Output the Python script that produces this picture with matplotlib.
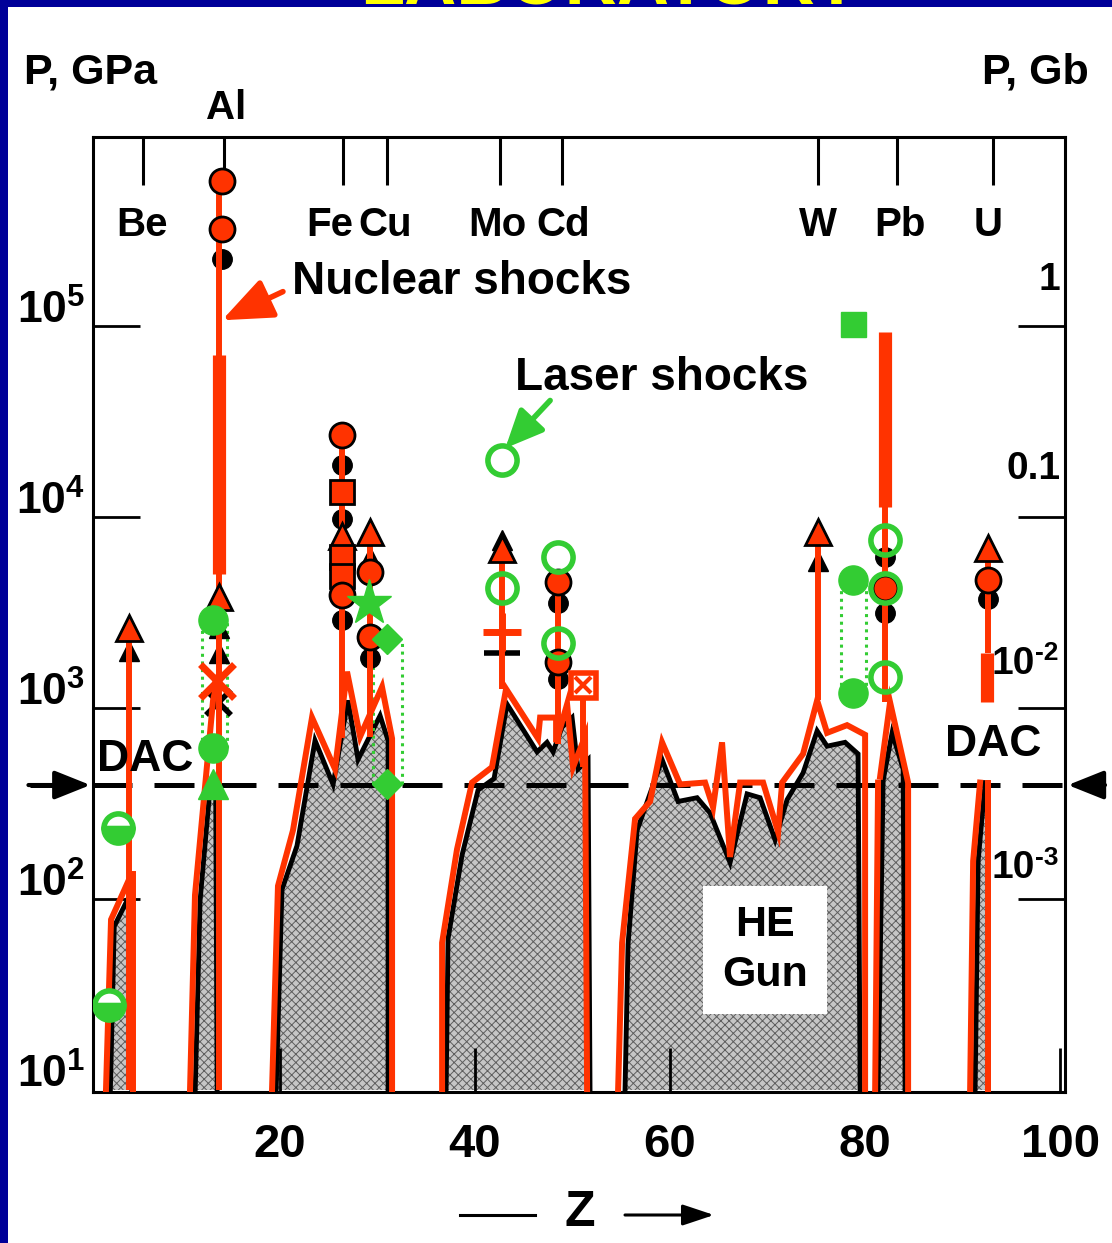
import matplotlib
matplotlib.use('Agg')
import matplotlib.pyplot as plt
from matplotlib import transforms
from matplotlib.patches import Rectangle
from matplotlib.lines import Line2D
from matplotlib.ticker import NullLocator

plt.rcParams['font.family'] = ['Liberation Sans', 'DejaVu Sans']
plt.rcParams['mathtext.fontset'] = 'custom'
plt.rcParams['mathtext.rm'] = 'Liberation Sans'
plt.rcParams['mathtext.bf'] = 'Liberation Sans:bold'
plt.rcParams['mathtext.it'] = 'Liberation Sans:italic'
plt.rcParams['hatch.linewidth'] = 0.7

RED = '#ff3300'
GREEN = '#33cc33'
BLUE = '#000099'
NARROW = ['Liberation Sans Narrow', 'Liberation Sans']

# ---- HE gun envelopes: black (scanned) outline and red overlay, Z vs P [GPa]
be_black_z = [2.6, 3.0, 4.6, 4.8, 4.8]
be_black_p = [10, 72, 105, 105, 10]
be_red_z = [2.15, 2.67, 4.62]
be_red_p = [10, 78, 130]
be_red2_z = [4.92, 4.92]
be_red2_p = [10, 135]

al_black_z = [11.3, 11.8, 12.8, 13.4, 13.55]
al_black_p = [10, 98, 372, 417, 10]
al_red_z = [10.77, 11.28, 13.13, 13.64]
al_red_p = [10, 105, 1096, 1445]

fe_black_z = [19.6, 20.2, 21.74, 23.59, 25.44, 26.97, 28.0, 30.26, 31.08, 31.08]
fe_black_p = [10, 112, 190, 676, 398, 1096, 537, 912, 676, 10]
fe_red_z = [19.18, 19.79, 21.33, 23.28, 25.64, 26.87, 28.21, 30.46, 31.49, 31.49]
fe_red_p = [10, 117, 229, 891, 479, 1549, 708, 1288, 692, 10]

mo_black_z = [37.03, 37.23, 38.67, 40.31, 41.95, 43.28, 46.36, 47.38, 48.0,
              48.92, 49.95, 50.56, 51.59, 51.79]
mo_black_p = [10, 62, 170, 372, 427, 1047, 589, 661, 589, 794, 891, 479, 537, 10]
mo_red_z = [36.62, 36.62, 38.15, 39.69, 41.74, 43.18, 46.46, 46.67, 48.31,
            48.31, 49.44, 50.05, 51.28, 51.49]
mo_red_p = [10, 59, 182, 407, 490, 1259, 692, 891, 891, 661, 1047, 490, 708, 10]

he_black_z = [55.38, 55.69, 56.62, 59.18, 60.82, 62.77, 64.10, 66.15, 67.90,
              69.23, 70.77, 72.0, 73.64, 75.08, 76.10, 77.95, 79.28, 79.49]
he_black_p = [10, 58, 229, 537, 324, 339, 282, 155, 355, 339, 204, 331, 457,
              759, 631, 661, 575, 10]
he_red_z = [54.67, 55.08, 56.41, 57.95, 59.18, 61.03, 63.59, 64.41, 65.33,
            66.15, 67.18, 69.54, 71.08, 71.49, 73.64, 75.08, 76.10, 78.15,
            80.0, 80.0]
he_red_p = [10, 59, 263, 324, 661, 398, 407, 302, 661, 166, 407, 407, 224,
            407, 575, 1096, 741, 813, 724, 10]

pb_black_z = [81.33, 81.85, 82.77, 83.9, 84.1]
pb_black_p = [10, 417, 741, 479, 10]
pb_red_z = [81.03, 81.33]
pb_red_p = [10, 407]
pb_red2_z = [81.54, 82.56, 84.41, 84.41]
pb_red2_p = [437, 1072, 407, 10]

u_black_z = [91.28, 91.59, 92.31, 92.62, 92.62]
u_black_p = [10, 158, 407, 407, 10]
u_red_z = [90.77, 91.08, 91.79]
u_red_p = [10, 158, 407]
u_red2_z = [92.62, 92.62]
u_red2_p = [10, 407]

dac_p = 395

# ---- vertical ranges (thin and thick red bars): z, p_low, p_high
thin_z = [4.5, 13.7, 26.36, 29.23, 42.77, 48.51, 51.08, 75.18, 82.05, 92.62]
thin_lo = [10, 10, 700, 708, 1259, 650, 490, 1096, 1072, 1950]
thin_hi = [2630, 575400, 26920, 8318, 6761, 4571, 1318, 8318, 11220, 6918]
thick_z = [13.7, 82.05, 92.55]
thick_lo = [5012, 11220, 1072]
thick_hi = [70800, 93300, 1950]

# ---- nuclear / HE data points
red_circle_z = [14.0, 14.0, 26.36, 26.36, 29.23, 29.23, 48.51, 48.51, 92.62, 82.05]
red_circle_p = [575400, 323600, 26920, 3890, 5129, 2344, 4571, 1738, 4677, 4266]
red_tri_z = [4.5, 13.75, 26.36, 29.23, 42.77, 75.18, 92.62]
red_tri_p = [2630, 3800, 7943, 8318, 6761, 8318, 6918]
red_sq_z = [26.36, 26.36, 26.36]
red_sq_p = [13490, 6166, 4898]
blk_circle_z = [14.0, 26.36, 26.36, 26.36, 29.23, 48.51, 48.51, 82.05, 82.05, 92.62]
blk_circle_p = [223900, 18620, 9772, 2884, 1820, 3548, 1413, 6166, 3162, 3715]
blk_tri_z = [4.5, 13.75, 13.75, 29.23, 42.77, 75.18]
blk_tri_p = [1995, 2630, 1950, 6166, 7586, 5888]
red_x = (13.54, 1380)
blk_x = (13.64, 1072)
red_plus = (42.77, 2512)
blk_plus = (42.77, 1950)
boxed_x = (51.08, 1318)

# ---- laser shock points
g_open_z = [42.77, 42.77, 48.51, 48.51, 82.05, 82.05, 82.05]
g_open_p = [19950, 4266, 6166, 2188, 7586, 4266, 1445]
g_fill_z = [13.1, 13.1, 78.77, 78.77]
g_fill_p = [2884, 617, 4677, 1202]
g_half_z = [3.38, 2.46]
g_half_p = [234, 28]
g_tri = (13.1, 398)
g_star = (29.13, 3548)
g_dia_z = [30.97, 30.97]
g_dia_p = [2291, 398]
g_sq = (78.77, 102300)
g_bracket_z = [12.0, 14.56, 29.54, 32.5, 77.54, 80.1]
g_bracket_lo = [617, 617, 398, 398, 1202, 1202]
g_bracket_hi = [2884, 2884, 2291, 2291, 4677, 4677]

elements = ['Be', 'Al', 'Fe', 'Cu', 'Mo', 'Cd', 'W', 'Pb', 'U']
elem_tick_z = [5.95, 14.25, 26.46, 30.97, 42.56, 48.92, 75.18, 83.28, 93.13]
elem_label_z = [5.85, 14.5, 25.1, 30.8, 42.3, 49.0, 75.2, 83.6, 92.6]

x_ticks = [20, 40, 60, 80, 100]
left_exp = ['1', '2', '3', '4', '5']
right_base = ['1', '0.1', '10', '10']
right_sup = ['', '', '-2', '-3']
right_label_p = [10**5.24, 10**4.25, 10**3.23, 10**2.16]

fig = plt.figure(figsize=(11.12, 12.43), dpi=100)
fig.patch.set_facecolor('white')
ax = fig.add_axes([93 / 1112, 1 - 1092 / 1243, 972 / 1112, 955 / 1243])
ax.set_yscale('log')
ax.set_xlim(0.82, 100.5)
ax.set_ylim(10**0.9895, 10**5.9895)
bt = transforms.blended_transform_factory(ax.transData, ax.transAxes)
bt_y = transforms.blended_transform_factory(ax.transAxes, ax.transData)

# shaded envelopes
for z, p in [(be_black_z, be_black_p), (al_black_z, al_black_p), (fe_black_z, fe_black_p),
             (mo_black_z, mo_black_p), (he_black_z, he_black_p), (pb_black_z, pb_black_p),
             (u_black_z, u_black_p)]:
    ax.fill(z, p, facecolor='#c6c6c6', edgecolor='#5e5e5e', hatch='xxxx', lw=0, zorder=1)
    ax.plot(z, p, color='black', lw=3.5, zorder=2, solid_joinstyle='miter')

ax.plot([-5.6, 104.1], [dac_p, dac_p], color='black', lw=3.6, dashes=(8, 4.4),
        clip_on=False, zorder=3)
head = '-|>,head_length=1.0,head_width=0.4'
ax.annotate('', xy=(0.55, dac_p), xytext=(-5.8, dac_p), annotation_clip=False,
            arrowprops=dict(arrowstyle=head, color='black', lw=3, mutation_scale=22,
                            shrinkA=0, shrinkB=0))
ax.annotate('', xy=(100.8, dac_p), xytext=(104.6, dac_p), annotation_clip=False,
            arrowprops=dict(arrowstyle=head, color='black', lw=3, mutation_scale=22,
                            shrinkA=0, shrinkB=0))

for z, p in [(be_red_z, be_red_p), (be_red2_z, be_red2_p), (al_red_z, al_red_p),
             (fe_red_z, fe_red_p), (mo_red_z, mo_red_p), (he_red_z, he_red_p),
             (pb_red_z, pb_red_p), (pb_red2_z, pb_red2_p), (u_red_z, u_red_p),
             (u_red2_z, u_red2_p)]:
    ax.plot(z, p, color=RED, lw=4.3, zorder=4, solid_joinstyle='miter')

# scanned black symbols
ax.plot(blk_circle_z, blk_circle_p, 'o', color='black', ms=14, zorder=3.5)
ax.plot(blk_tri_z, blk_tri_p, '^', color='black', ms=15, zorder=3.5)
ax.plot(*blk_x, 'x', color='black', ms=18, mew=4, zorder=3.5)
ax.plot(*blk_plus, '_', color='black', ms=26, mew=4, zorder=3.5)

# green dotted brackets
ax.vlines(g_bracket_z, g_bracket_lo, g_bracket_hi, colors=GREEN, lw=2.2,
          linestyles=(0, (1, 1.5)), zorder=3)

# red bars
ax.vlines(thin_z, thin_lo, thin_hi, colors=RED, lw=4.3, zorder=4.5)
ax.vlines(thick_z, thick_lo, thick_hi, colors=RED, lw=9.5, zorder=4.5)

# red markers
ax.plot(red_tri_z, red_tri_p, '^', mfc=RED, mec='black', mew=2, ms=19, ls='none', zorder=5)
ax.plot(red_sq_z, red_sq_p, 's', mfc=RED, mec='black', mew=2, ms=17, ls='none', zorder=5)
ax.plot(red_circle_z, red_circle_p, 'o', mfc=RED, mec='black', mew=2, ms=18, ls='none', zorder=5)
ax.plot(*red_x, 'x', color=RED, ms=25, mew=5, zorder=5)
ax.plot(*red_plus, '+', color=RED, ms=28, mew=5, zorder=5)
ax.plot(*boxed_x, 's', mfc='white', mec=RED, mew=4, ms=18, zorder=5)
ax.plot(*boxed_x, 'x', color=RED, ms=11, mew=3, zorder=5.1)

# green markers
ax.plot(g_open_z, g_open_p, 'o', mfc='none', mec=GREEN, mew=4, ms=21, ls='none', zorder=6)
ax.plot(g_fill_z, g_fill_p, 'o', color=GREEN, ms=21, ls='none', zorder=6)
ax.plot(g_half_z, g_half_p, 'o', fillstyle='bottom', mfc=GREEN, mfcalt='white', mec=GREEN,
        mew=4, ms=21, ls='none', zorder=6)
ax.plot(*g_tri, '^', color=GREEN, ms=22, zorder=6)
ax.plot(*g_star, '*', color=GREEN, ms=34, zorder=6)
ax.plot(g_dia_z, g_dia_p, 'D', color=GREEN, ms=15, ls='none', zorder=6)
ax.plot(*g_sq, 's', color=GREEN, ms=18, zorder=6)

# axes styling
for sp in ax.spines.values():
    sp.set_linewidth(2.2)
ax.set_yticks([1e2, 1e3, 1e4, 1e5])
ax.yaxis.set_minor_locator(NullLocator())
ax.tick_params(axis='y', direction='in', length=34, width=2, left=True, right=True,
               labelleft=False, labelright=False)
ax.set_xticks(x_ticks)
ax.set_xticklabels([str(v) for v in x_ticks], fontfamily=NARROW, fontweight='bold', fontsize=34)
ax.tick_params(axis='x', direction='in', length=32, width=2, pad=22, top=False)

ax.vlines(elem_tick_z, 0.95, 1.0, colors='black', lw=2.2, transform=bt, zorder=2)
for name, z in zip(elements, elem_label_z):
    y = 1.03 if name == 'Al' else 0.908
    ax.text(z, y, name, transform=bt, ha='center', va='center', fontsize=29,
            fontweight='bold', clip_on=False, zorder=7)

for k in left_exp:
    ax.text(-0.008, 10**(int(k) + 0.08), r'$\mathbf{10^{%s}}$' % k, transform=bt_y,
            ha='right', va='center', fontsize=32, clip_on=False)

# right-hand Gbar labels: base text plus a plain-hyphen superscript
for base, sup, p in zip(right_base, right_sup, right_label_p):
    x = 0.969 if sup else 0.995
    t = ax.text(x, p, base, transform=bt_y, ha='right', va='center', fontsize=28,
                fontweight='bold', zorder=7)
    if sup:
        ax.annotate(sup, xy=(1.0, 0.8), xycoords=t, ha='left', va='center',
                    fontsize=19, fontweight='bold', zorder=7)

# annotations
ax.text(38.67, 10**5.23, 'Nuclear shocks', ha='center', va='center', fontsize=33,
        fontweight='bold', zorder=7)
ax.annotate('', xy=(14.05, 10**5.03), xytext=(20.3, 10**5.18),
            arrowprops=dict(arrowstyle='-|>,head_length=1.1,head_width=0.45', color=RED,
                            lw=4, mutation_scale=28, shrinkA=0, shrinkB=0), zorder=7)
ax.text(59.18, 10**4.73, 'Laser shocks', ha='center', va='center', fontsize=33,
        fontweight='bold', zorder=7)
ax.annotate('', xy=(43.1, 10**4.36), xytext=(47.7, 10**4.61),
            arrowprops=dict(arrowstyle='-|>,head_length=1.0,head_width=0.45', color=GREEN,
                            lw=4, mutation_scale=23, shrinkA=0, shrinkB=0), zorder=7)
ax.text(69.74, 10**1.733, 'HE\nGun', ha='center', va='center', fontsize=31,
        fontweight='bold', linespacing=1.3, zorder=7,
        bbox=dict(facecolor='white', edgecolor='none', boxstyle='square,pad=0.45'))
ax.text(6.15, 10**2.73, 'DAC', ha='center', va='center', fontsize=32, fontweight='bold', zorder=7)
ax.text(93.13, 10**2.81, 'DAC', ha='center', va='center', fontsize=32, fontweight='bold', zorder=7)

# figure-level labels and frame
fig.text(90 / 1112, 1 - 72 / 1243, 'P, GPa', ha='center', va='center', fontsize=31,
         fontweight='bold')
fig.text(1035 / 1112, 1 - 72 / 1243, 'P, Gb', ha='center', va='center', fontsize=31,
         fontweight='bold')
fig.text(580 / 1112, 1 - 1213 / 1243, 'Z', ha='center', va='center', fontsize=36,
         fontweight='bold', family=NARROW)
fig.add_artist(Line2D([460 / 1112, 535 / 1112], [1 - 1215 / 1243] * 2, color='black', lw=2.2))
ax.annotate('', xy=(714 / 1112, 1 - 1215 / 1243), xytext=(625 / 1112, 1 - 1215 / 1243),
            xycoords='figure fraction', textcoords='figure fraction', annotation_clip=False,
            arrowprops=dict(arrowstyle='-|>,head_length=1.2,head_width=0.4', color='black',
                            lw=2.2, mutation_scale=16, shrinkA=0, shrinkB=0))

fig.patches.append(Rectangle((0, 0), 8 / 1112, 1, transform=fig.transFigure,
                             facecolor=BLUE, edgecolor='none'))
fig.patches.append(Rectangle((0, 1 - 7 / 1243), 1, 7 / 1243, transform=fig.transFigure,
                             facecolor=BLUE, edgecolor='none'))
fig.text(610 / 1112, 1 - 4 / 1243, 'LABORATORY', ha='center', va='baseline', fontsize=52,
         fontweight='bold', color='yellow')

fig.savefig('out.png', dpi=100)
